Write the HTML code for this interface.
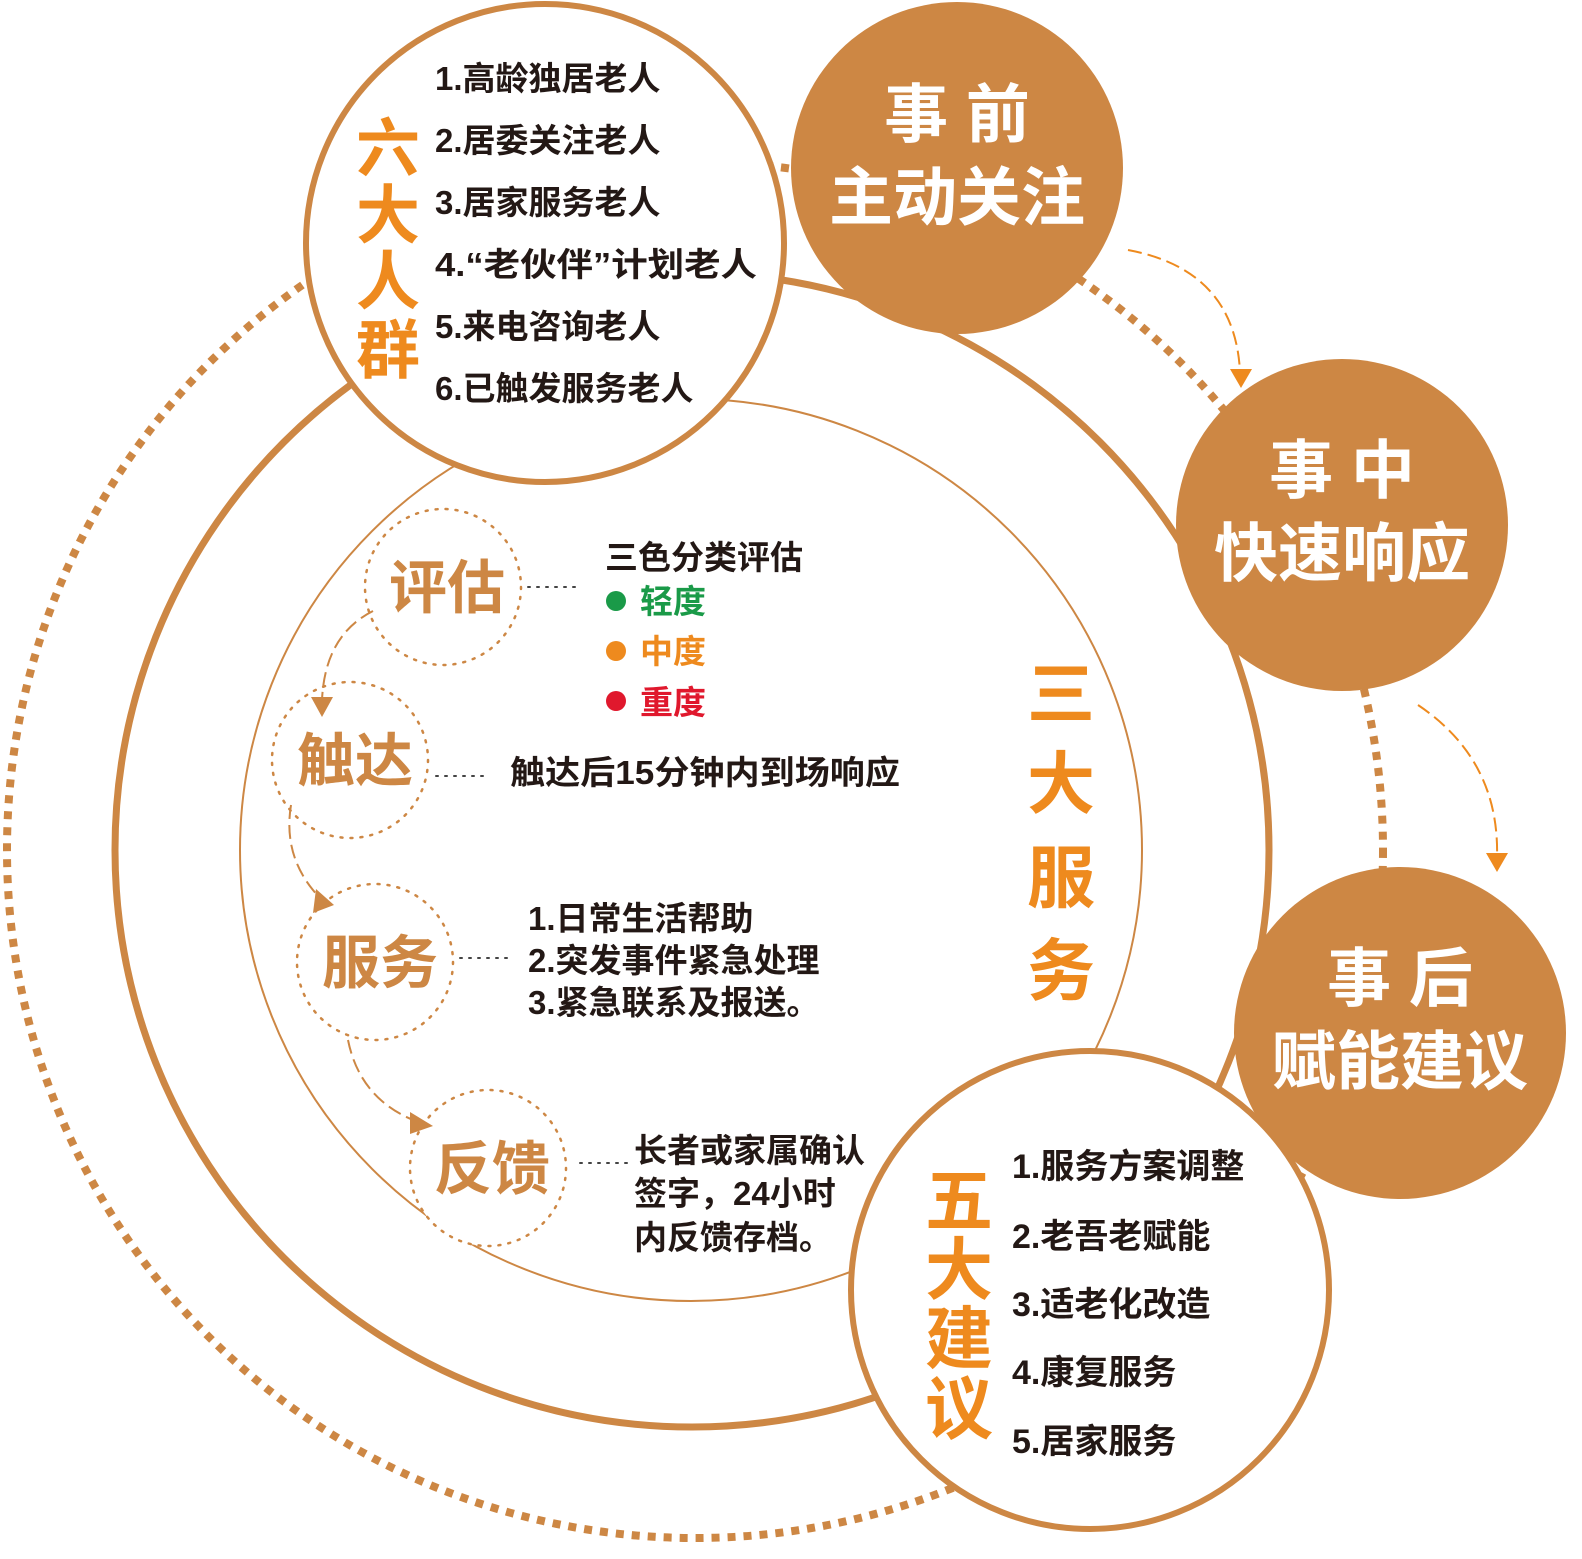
<!DOCTYPE html>
<html><head><meta charset="utf-8"><style>
html,body{margin:0;padding:0;background:#fff;}
svg text{font-family:"Liberation Sans","Noto Sans CJK SC",sans-serif;font-weight:bold;}
</style></head><body>
<svg width="1582" height="1554" viewBox="0 0 1582 1554" xmlns="http://www.w3.org/2000/svg">
<circle cx="695" cy="850" r="688" fill="none" stroke="#CD8744" stroke-width="8" stroke-dasharray="8 8"/>
<circle cx="692" cy="850" r="577" fill="none" stroke="#CD8744" stroke-width="7"/>
<circle cx="691" cy="850" r="451" fill="none" stroke="#CD8744" stroke-width="2"/>

<circle cx="545" cy="243" r="239" fill="#fff" stroke="#CD8744" stroke-width="6"/>
<circle cx="1090" cy="1290" r="239" fill="#fff" stroke="#CD8744" stroke-width="6"/>

<circle cx="957" cy="168" r="166" fill="#CD8744"/>
<circle cx="1342" cy="525" r="166" fill="#CD8744"/>
<circle cx="1400" cy="1033" r="166" fill="#CD8744"/>

<g fill="#fff" font-size="64" text-anchor="middle">
<text x="957" y="137">事 前</text>
<text x="957" y="220">主动关注</text>
<text x="1342" y="493">事 中</text>
<text x="1342" y="576">快速响应</text>
<text x="1400" y="1001">事 后</text>
<text x="1400" y="1084">赋能建议</text>
</g>

<g fill="none" stroke="#EE8A1E" stroke-width="2" stroke-dasharray="14 6">
<path d="M1128 250 Q1235 270 1240 372"/>
<path d="M1418 705 Q1500 760 1497 858"/>
</g>
<g fill="#EE8A1E">
<polygon points="1230,369 1252,369 1241,388"/>
<polygon points="1486,853 1508,853 1497,872"/>
</g>

<g fill="#fff" stroke="#CD8744" stroke-width="2.5" stroke-dasharray="2 8" stroke-linecap="round">
<circle cx="443" cy="587" r="78"/>
<circle cx="350" cy="760" r="78"/>
<circle cx="375" cy="962" r="78"/>
<circle cx="488" cy="1168" r="78"/>
</g>
<g fill="#CD8744" font-size="58" text-anchor="middle">
<text x="447" y="608">评估</text>
<text x="355" y="781">触达</text>
<text x="380" y="983">服务</text>
<text x="492" y="1189">反馈</text>
</g>
<g fill="none" stroke="#CD8744" stroke-width="2" stroke-dasharray="14 6">
<path d="M373 611 Q325 635 322 700"/>
<path d="M291 805 Q282 860 322 900"/>
<path d="M348 1040 Q360 1100 418 1122"/>
</g>
<g fill="#CD8744">
<polygon points="311,697 333,697 322,717"/>
<polygon points="316,889 334,905 313,913"/>
<polygon points="410,1112 433,1126 410,1134"/>
</g>
<g stroke="#444" stroke-width="2" stroke-dasharray="2 7" stroke-linecap="round">
<line x1="528" y1="587" x2="578" y2="587"/>
<line x1="436" y1="776" x2="486" y2="776"/>
<line x1="460" y1="958" x2="512" y2="958"/>
<line x1="580" y1="1163" x2="630" y2="1163"/>
</g>

<g fill="#EE8A1E" font-size="64" text-anchor="middle">
<text x="388" y="171">六</text>
<text x="388" y="238">大</text>
<text x="388" y="304">人</text>
<text x="388" y="373">群</text>
</g>
<g fill="#231815" font-size="33">
<text x="435" y="90">1.高龄独居老人</text>
<text x="435" y="152">2.居委关注老人</text>
<text x="435" y="214">3.居家服务老人</text>
<text x="435" y="276" textLength="322" lengthAdjust="spacingAndGlyphs">4.“老伙伴”计划老人</text>
<text x="435" y="338">5.来电咨询老人</text>
<text x="435" y="400">6.已触发服务老人</text>
</g>

<g font-size="33">
<text x="605" y="569" fill="#231815">三色分类评估</text>
<text x="640" y="613" fill="#1A9A48">轻度</text>
<text x="640" y="663" fill="#EE8A1E">中度</text>
<text x="640" y="714" fill="#E0182D">重度</text>
<text x="510" y="784" fill="#231815" textLength="390" lengthAdjust="spacingAndGlyphs">触达后15分钟内到场响应</text>
<text x="528" y="930" fill="#231815">1.日常生活帮助</text>
<text x="528" y="972" fill="#231815">2.突发事件紧急处理</text>
<text x="528" y="1014" fill="#231815">3.紧急联系及报送。</text>
<text x="634" y="1162" fill="#231815">长者或家属确认</text>
<text x="634" y="1205" fill="#231815">签字，24小时</text>
<text x="634" y="1249" fill="#231815">内反馈存档。</text>
</g>
<circle cx="616" cy="601" r="10" fill="#1A9A48"/>
<circle cx="616" cy="651" r="10" fill="#EE8A1E"/>
<circle cx="616" cy="701" r="10" fill="#E0182D"/>

<g fill="#EE8A1E" font-size="68" text-anchor="middle">
<text x="1061" y="718">三</text>
<text x="1061" y="808">大</text>
<text x="1061" y="902">服</text>
<text x="1061" y="995">务</text>
</g>

<g fill="#EE8A1E" font-size="68" text-anchor="middle">
<text x="959" y="1225">五</text>
<text x="959" y="1294">大</text>
<text x="959" y="1363">建</text>
<text x="959" y="1433">议</text>
</g>
<g fill="#231815" font-size="34">
<text x="1012" y="1178">1.服务方案调整</text>
<text x="1012" y="1248">2.老吾老赋能</text>
<text x="1012" y="1316">3.适老化改造</text>
<text x="1012" y="1384">4.康复服务</text>
<text x="1012" y="1453">5.居家服务</text>
</g>
</svg>
</body></html>
